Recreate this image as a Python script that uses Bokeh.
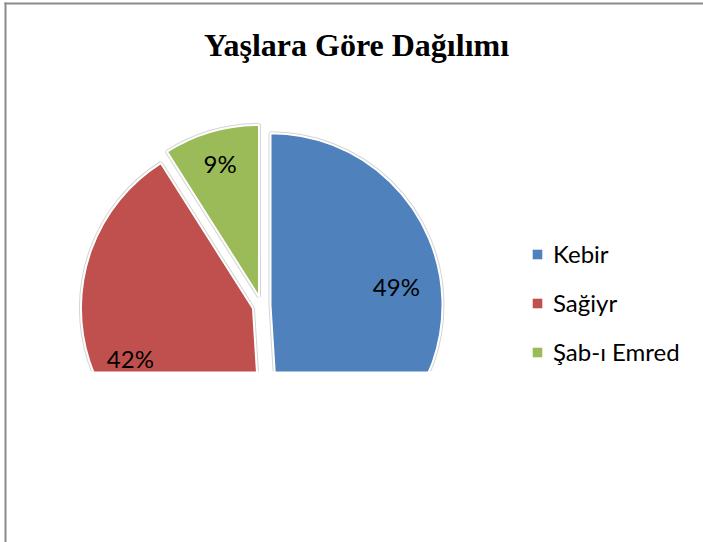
import math
from bokeh.plotting import figure
from bokeh.models import Range1d, ColumnDataSource, Legend, LegendItem
from bokeh.core.properties import value
from bokeh.embed import file_html
from bokeh.resources import INLINE

# ---- data ----
title_text = "Yaşlara Göre Dağılımı"
categories = ["Kebir", "Sağiyr", "Şab-ı Emred"]
values = [49, 42, 9]
colors = ["#4F81BD", "#C0504D", "#9BBB59"]

# ---- layout / style ----
W, H = 703, 542
cx, cy = 261, -305        # pie centre (screen px, y negated)
R = 172                   # radius px
EXPLODE = 9               # explode distance px
CLIP_Y = -371             # bottom of visible plot area
label_frac = [0.74, 0.77, 0.81]
label_nudge_deg = [6.8, 4.3, 0.0]

total = float(sum(values))
xs, ys, starts, ends, lx, ly, labels = [], [], [], [], [], [], []
cum = 0.0
for i, v in enumerate(values):
    a0 = math.pi / 2 - 2 * math.pi * cum / total
    cum += v
    a1 = math.pi / 2 - 2 * math.pi * cum / total
    mid = (a0 + a1) / 2
    ox = cx + EXPLODE * math.cos(mid)
    oy = cy + EXPLODE * math.sin(mid)
    xs.append(ox); ys.append(oy); starts.append(a0); ends.append(a1)
    la = mid + math.radians(label_nudge_deg[i])
    lx.append(ox + label_frac[i] * R * math.cos(la))
    ly.append(oy + label_frac[i] * R * math.sin(la))
    labels.append(f"{round(100 * v / total)}%")

src = ColumnDataSource(dict(x=xs, y=ys, start=starts, end=ends, color=colors,
                            cat=categories, lx=lx, ly=ly, label=labels))

p = figure(width=W, height=H, x_range=Range1d(0, W), y_range=Range1d(-H, 0),
           output_backend="svg", toolbar_location=None,
           x_axis_location=None, y_axis_location=None,
           min_border=0, min_border_left=0, min_border_right=0,
           min_border_top=0, min_border_bottom=0)
p.grid.visible = False
p.outline_line_color = None
p.background_fill_color = "white"
p.border_fill_color = "white"

# shadow halo + slices
p.wedge(x="x", y="y", radius=R, start_angle="start", end_angle="end",
        direction="clock", source=src, fill_color="color",
        line_color="#d4d4d4", line_width=4)
p.wedge(x="x", y="y", radius=R, start_angle="start", end_angle="end",
        direction="clock", source=src, fill_color="color",
        line_color="white", line_width=2)

# percentage labels
p.text(x="lx", y="ly", text="label", source=src, text_align="center",
       text_baseline="middle", text_font=value("Lato"),
       text_font_size="24px", text_color="black")

# the chart's plot area is cut off below CLIP_Y
p.quad(left=[6], right=[W], top=[CLIP_Y], bottom=[-H],
       fill_color="white", line_color=None)

# outer frame lines (left and top)
p.segment(x0=[5, 4], y0=[-2, -3], x1=[5, W], y1=[-H, -3],
          line_color="#8a8a8a", line_width=2)

# title
p.text(x=[356], y=[-44], text=[title_text], text_align="center",
       text_baseline="middle", text_font=value("Liberation Serif"),
       text_font_style="bold", text_font_size="32px", text_color="black")

# legend (square keys from off-range quads)
items = []
for c, cat in zip(colors, categories):
    r = p.quad(left=[-1000], right=[-999], top=[-1000], bottom=[-1001],
               fill_color=c, line_color=None)
    items.append(LegendItem(label=cat, renderers=[r]))
legend = Legend(items=items, location=(531, 176), orientation="vertical",
                label_text_font="Lato", label_text_font_size="24px",
                label_text_color="black", glyph_width=12, glyph_height=12,
                label_height=24, spacing=20, padding=0, margin=0,
                label_standoff=10, border_line_color=None,
                background_fill_alpha=0)
p.add_layout(legend)

open("out.html", "w").write(file_html(p, INLINE))
